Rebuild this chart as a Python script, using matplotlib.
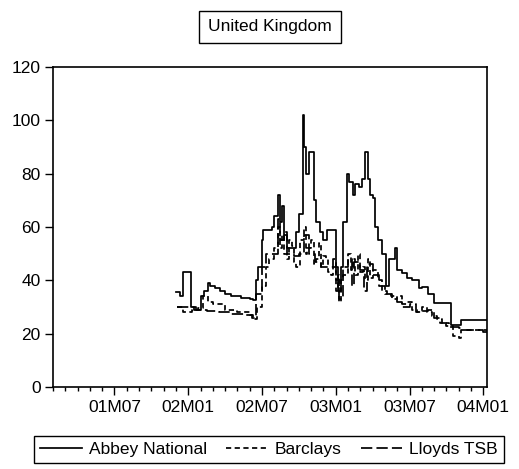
import matplotlib.pyplot as plt
from matplotlib.ticker import FixedLocator, NullFormatter

plt.rcParams['font.family'] = ['Liberation Sans', 'DejaVu Sans']

# time axis in months since 2001M01 (01M07 = 6, 04M01 = 36)
tick_pos = [6, 12, 18, 24, 30, 36]
tick_labels = ['01M07', '02M01', '02M07', '03M01', '03M07', '04M01']
y_ticks = [0, 20, 40, 60, 80, 100, 120]

abbey_t = [11.0, 11.3, 11.6, 12.25, 12.6, 13.0, 13.3, 13.6, 13.8, 14.2, 14.6, 15.0,
           15.5, 16.3, 17.0, 17.3, 17.5, 17.7, 18.0, 18.1, 18.8, 19.0, 19.3, 19.5,
           19.6, 19.8, 20.0, 20.5, 20.8, 21.0, 21.3, 21.45, 21.6, 21.8, 22.0, 22.2,
           22.4, 22.7, 23.0, 23.3, 23.6, 24.0, 24.2, 24.4, 24.6, 24.9, 25.1, 25.4,
           25.6, 25.9, 26.1, 26.4, 26.6, 26.8, 27.0, 27.2, 27.4, 27.8, 28.1, 28.3,
           28.8, 29.0, 29.4, 29.8, 30.2, 30.8, 31.0, 31.5, 32.0, 33.4, 34.2, 36.3]
abbey_v = [35.5, 34, 43, 30, 29, 34, 36, 39, 38, 37, 36, 35,
           34, 33.5, 33, 32.5, 40, 45, 55, 59, 60, 64, 72, 62,
           68, 57, 52, 52, 58, 65, 102, 90, 80, 88, 88, 70,
           62, 58, 55, 59, 59, 45, 36, 45, 62, 80, 77, 72,
           76, 75, 78, 88, 78, 72, 71, 60, 55, 50, 38, 48,
           52, 44, 42.7, 41, 40, 37, 37.6, 35, 31.5, 23.2, 25.1, 25.1]

barclays_t = [11.1, 11.6, 12.3, 12.8, 13.2, 13.6, 14.0, 15.0, 16.0, 17.0, 17.3, 17.6,
              18.0, 18.3, 18.6, 19.0, 19.3, 19.45, 19.6, 19.8, 20.0, 20.2, 20.4, 20.6,
              20.8, 21.1, 21.4, 21.55, 21.7, 22.0, 22.2, 22.4, 22.6, 22.8, 23.0, 23.2,
              23.4, 23.6, 23.8, 24.0, 24.15, 24.3, 24.45, 24.6, 25.0, 25.2, 25.4, 25.6,
              25.8, 26.0, 26.2, 26.4, 26.6, 26.8, 27.0, 27.4, 27.8, 28.2, 28.6, 29.0,
              29.4, 29.8, 30.2, 30.6, 31.0, 31.4, 31.8, 32.2, 32.6, 33.0, 33.5, 34.0,
              34.2, 36.3]
barclays_v = [30, 28, 29, 29.5, 34, 32, 31, 29, 28, 27, 25.5, 30,
              38, 45, 48, 52, 60, 52, 57, 50, 48, 55, 53, 47,
              45, 55, 60, 50, 52, 55, 46, 48, 54, 45, 49, 48,
              43, 42, 45, 36, 42, 32, 40, 42, 50, 44, 48, 42,
              50, 43, 45, 40, 48, 41, 44, 40, 36, 35, 33, 34,
              31, 32, 29, 28, 30, 28, 26.5, 25.5, 24, 23, 19, 18.5,
              21.2, 21.2]

lloyds_t = [11.1, 12.5, 13.5, 14.5, 15.5, 16.5, 17.2, 17.5, 18.0, 18.3, 19.0, 19.3,
            19.5, 19.8, 20.0, 20.6, 21.0, 21.4, 21.8, 22.3, 22.8, 23.5, 23.8, 24.0,
            24.3, 24.6, 25.0, 25.3, 25.5, 26.0, 26.3, 26.5, 27.0, 27.5, 28.0, 28.5,
            29.0, 29.4, 30.0, 30.5, 31.0, 31.5, 32.0, 32.5, 33.2, 34.0, 34.2, 36.0,
            36.3]
lloyds_v = [30, 29, 28.5, 28, 27.5, 27, 26, 35, 45, 50, 50, 63,
            55, 58, 50, 49, 50, 57, 50, 47, 45, 45, 48, 40,
            33, 45, 48, 38, 47, 44, 36, 46, 42, 38, 35, 34,
            32, 30, 31, 28, 28.5, 29, 26, 24, 22.6, 22, 21.4, 20.8,
            20.8]

fig = plt.figure(figsize=(5.19, 4.69), dpi=100)
ax = fig.add_axes([53 / 519, 82 / 469, 434 / 519, 320 / 469])

ax.plot(abbey_t, abbey_v, color='black', lw=1.25, drawstyle='steps-post', label='Abbey National')
ax.plot(barclays_t, barclays_v, color='black', lw=1.25, drawstyle='steps-post',
        dashes=(3, 2), label='Barclays')
ax.plot(lloyds_t, lloyds_v, color='black', lw=1.25, drawstyle='steps-post',
        dashes=(6.5, 2.4), label='Lloyds TSB')

ax.set_xlim(1.0, 36.3)
ax.set_ylim(0, 120)
ax.set_yticks(y_ticks)
ax.set_xticks(tick_pos)
ax.set_xticklabels(tick_labels)
ax.xaxis.set_minor_locator(FixedLocator([m for m in range(1, 37) if m not in tick_pos]))
ax.xaxis.set_minor_formatter(NullFormatter())
ax.tick_params(axis='both', which='major', direction='out', length=6, width=1,
               labelsize=12.5, pad=3)
ax.tick_params(axis='x', which='minor', direction='out', length=3, width=1)
for s in ax.spines.values():
    s.set_linewidth(1.2)

fig.text(270 / 519, 1 - 27 / 469, 'United Kingdom', ha='center', va='center', fontsize=12.5,
         bbox=dict(boxstyle='square,pad=0.5', facecolor='white', edgecolor='black', lw=1))

fig.legend(loc='center', bbox_to_anchor=(269 / 519, 1 - 449.5 / 469), ncol=3,
           fontsize=12.5, frameon=True, fancybox=False, edgecolor='black', framealpha=1,
           handlelength=2.4, handletextpad=0.4, columnspacing=1.1, borderpad=0.35)

fig.savefig('out.png', dpi=100)
